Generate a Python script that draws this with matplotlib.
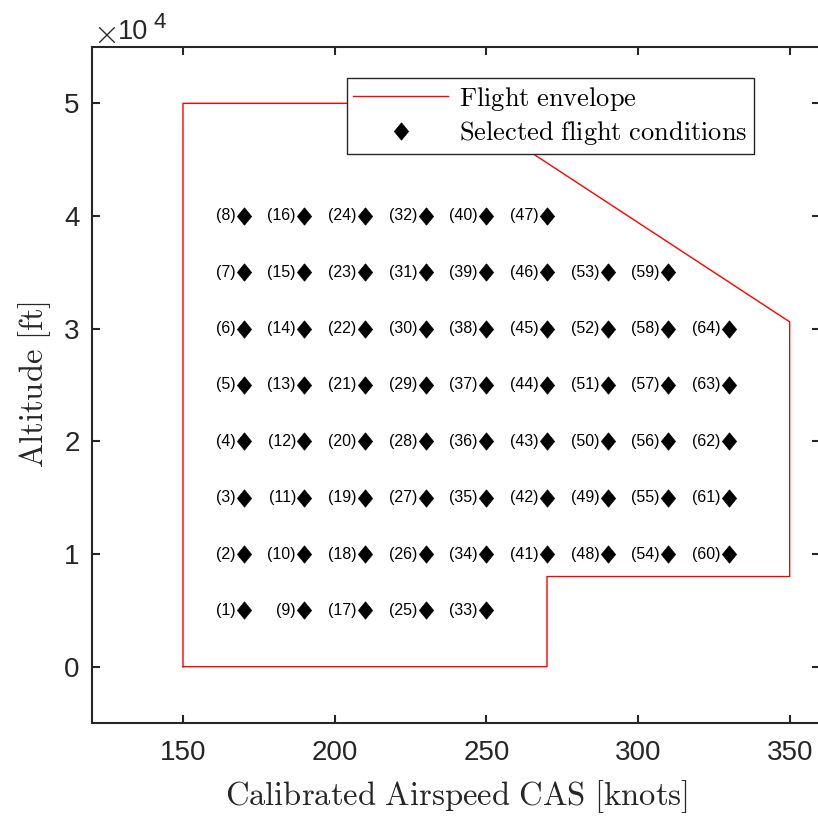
import matplotlib
matplotlib.use("Agg")
import matplotlib.pyplot as plt

# Flight envelope boundary (CAS [knots], altitude [ft])
env_cas = [150, 150, 240, 350, 350, 270, 270, 150]
env_alt = [0, 50000, 50000, 30600, 8000, 8000, 0, 0]

# Selected flight conditions, numbered column by column
col_cas = [170, 190, 210, 230, 250, 270, 290, 310, 330]
col_alts = [
    [5000, 10000, 15000, 20000, 25000, 30000, 35000, 40000],
    [5000, 10000, 15000, 20000, 25000, 30000, 35000, 40000],
    [5000, 10000, 15000, 20000, 25000, 30000, 35000, 40000],
    [5000, 10000, 15000, 20000, 25000, 30000, 35000, 40000],
    [5000, 10000, 15000, 20000, 25000, 30000, 35000, 40000],
    [10000, 15000, 20000, 25000, 30000, 35000, 40000],
    [10000, 15000, 20000, 25000, 30000, 35000],
    [10000, 15000, 20000, 25000, 30000, 35000],
    [10000, 15000, 20000, 25000, 30000],
]

pt_cas, pt_alt = [], []
for c, alts in zip(col_cas, col_alts):
    for a in alts:
        pt_cas.append(c)
        pt_alt.append(a)
pt_labels = [f"({i+1})" for i in range(len(pt_cas))]

xticks = [150, 200, 250, 300, 350]
yticks = [0, 10000, 20000, 30000, 40000, 50000]
yticklabels = ["0", "1", "2", "3", "4", "5"]

plt.rcParams['mathtext.fontset'] = 'cm'
plt.rcParams['font.family'] = ['Liberation Sans', 'DejaVu Sans']
dark = '#262626'

diamond = [(0, 1), (0.82, 0), (0, -1), (-0.82, 0), (0, 1)]

fig = plt.figure(figsize=(8.18, 8.16), dpi=100)
ax = fig.add_axes([92/818, (816-723)/816, 728/818, 676/816])

ax.plot(env_cas, env_alt, color='red', lw=1.0, label=r'$\mathrm{Flight\ envelope}$')
ax.plot(pt_cas, pt_alt, linestyle='none', marker=diamond, markersize=12.5,
        color='black', markeredgewidth=0.5,
        label=r'$\mathrm{Selected\ flight\ conditions}$')
for x, y, s in zip(pt_cas, pt_alt, pt_labels):
    ax.annotate(s, (x, y), xytext=(-6, 0), textcoords='offset points',
                ha='right', va='center', fontsize=11.5, color='black')

ax.set_xlim(120, 360)
ax.set_ylim(-5000, 55000)
ax.set_xticks(xticks)
ax.set_yticks(yticks)
ax.set_yticklabels(yticklabels)

for sp in ax.spines.values():
    sp.set_color(dark)
    sp.set_linewidth(1.5)
ax.tick_params(direction='in', length=6, width=1.5, color=dark,
               labelcolor=dark, labelsize=20, top=True, right=True)
ax.tick_params(axis='x', pad=12)
ax.tick_params(axis='y', pad=9)

ax.set_xlabel(r'$\mathrm{Calibrated\ Airspeed\ CAS\ [knots]}$', fontsize=23.5, color=dark, labelpad=9)
ax.set_ylabel(r'$\mathrm{Altitude\ [ft]}$', fontsize=23.5, color=dark, labelpad=8)

leg = ax.legend(loc='upper left', bbox_to_anchor=(0.350, 0.954), borderaxespad=0,
                fancybox=False, edgecolor=dark, fontsize=19, handlelength=3.6,
                framealpha=1, borderpad=0.25, labelspacing=0.25, handletextpad=0.4,
                handleheight=0.7)
leg.get_frame().set_linewidth(1.0)

fig.text(93/818, 1 - 43/816, r'$\times$', fontsize=24, color=dark, ha='left', va='baseline')
fig.text(118/818, 1 - 39/816, '10', fontsize=19.5, color=dark, ha='left', va='baseline')
fig.text(153/818, 1 - 28/816, '4', fontsize=16, color=dark, ha='left', va='baseline')

fig.savefig('out.png', dpi=100)
